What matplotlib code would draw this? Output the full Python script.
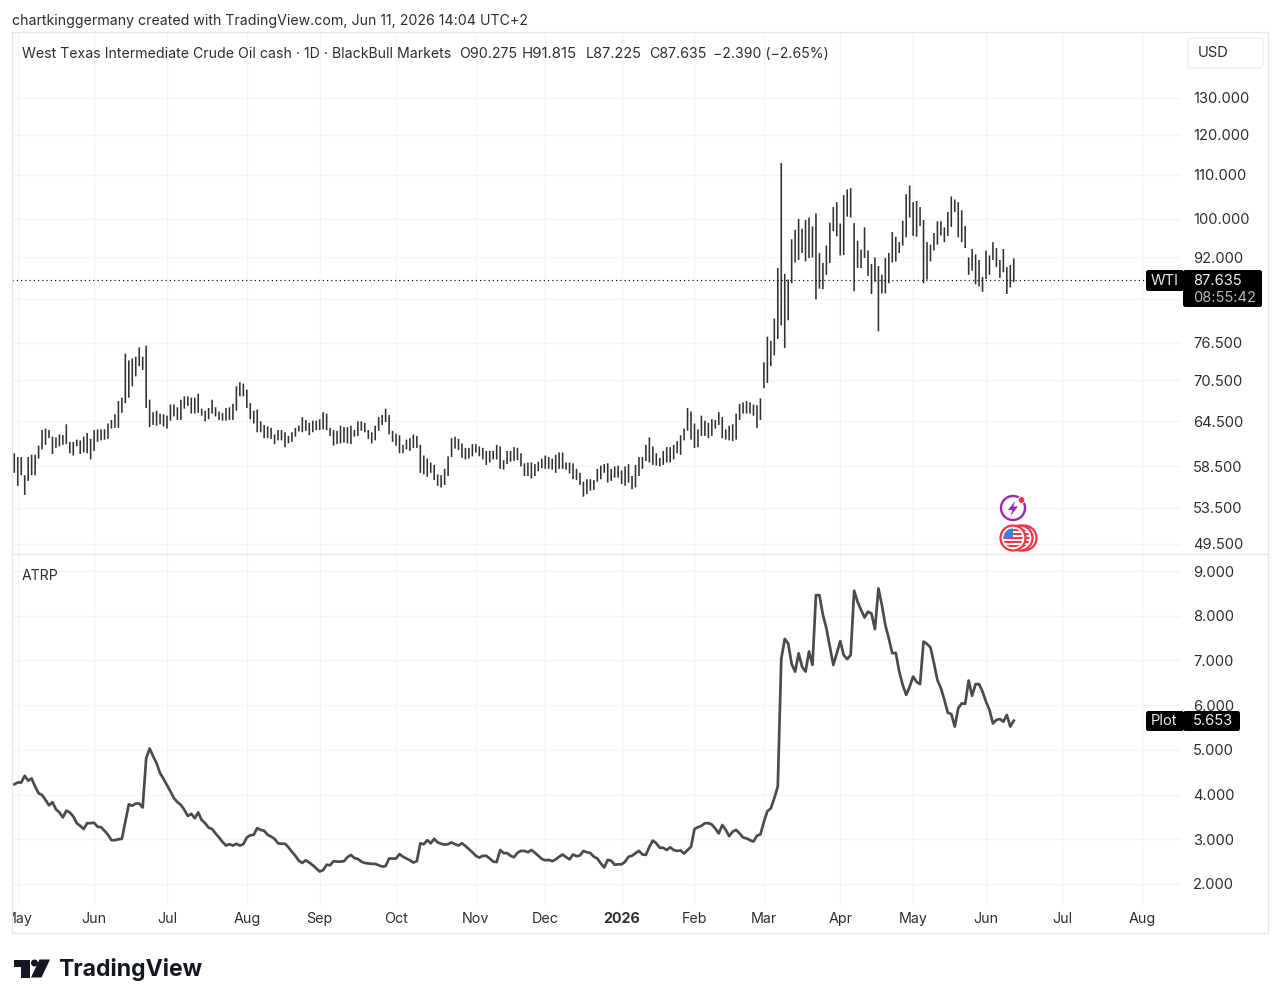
import matplotlib
matplotlib.use("Agg")
import matplotlib.pyplot as plt
from matplotlib.patches import Circle, FancyBboxPatch, Polygon, Rectangle
from matplotlib.transforms import Bbox

plt.rcParams["font.family"] = ["Inter", "DejaVu Sans"]

# Daily high/low of WTI crude, one value per trading session
high = [
60.2,59.7,59.7,57.4,59.7,60.0,60.0,61.2,63.3,63.5,63.3,62.4,62.3,62.7,62.6,64.1,61.7,61.7,62.0,61.9,
62.4,62.9,62.1,63.3,63.4,63.4,63.4,64.2,64.7,65.5,67.4,67.9,74.7,73.6,73.9,74.2,75.7,74.2,76.0,67.6,
65.8,66.0,65.6,65.5,65.3,66.9,66.9,66.5,67.6,68.1,68.1,67.9,67.9,68.5,66.3,66.0,66.4,67.6,66.5,65.9,
65.7,66.4,66.5,67.0,69.6,70.2,70.0,69.1,67.1,66.0,66.2,64.5,64.0,63.8,63.6,62.7,63.3,63.3,63.0,62.5,
63.0,63.6,63.9,65.1,64.7,64.3,64.6,64.6,64.8,65.8,65.6,63.6,63.3,63.2,63.9,63.7,63.7,63.9,63.3,64.5,
64.5,64.3,63.3,63.0,63.9,65.1,65.4,66.3,65.4,63.2,62.8,62.6,
61.3,62.0,62.2,62.7,62.5,61.3,59.9,59.5,59.0,58.7,57.5,57.4,58.2,59.8,62.2,62.4,62.1,61.5,60.9,60.9,
61.4,61.4,61.1,60.9,60.5,60.5,60.5,61.3,61.1,59.3,60.5,60.5,61.0,60.9,60.2,58.9,59.0,59.0,58.8,59.1,
59.5,59.9,59.7,59.5,60.0,60.3,60.3,59.0,59.0,58.9,58.2,57.7,56.6,56.9,56.9,56.8,58.2,58.6,58.8,58.9,
58.2,58.5,58.6,58.0,58.5,58.8,57.3,58.7,59.7,59.7,61.3,62.3,61.1,60.2,59.6,60.5,61.0,61.0,61.3,61.8,
62.6,63.5,66.4,65.9,64.2,63.4,65.3,64.6,64.3,64.8,64.7,65.8,65.1,63.4,63.9,64.1,65.6,67.0,67.2,67.4,
67.2,66.9,66.8,67.8,
73.3,77.5,76.8,80.6,89.9,112.9,88.8,87.7,95.7,97.7,100.0,97.9,99.8,100.3,98.4,101.2,92.9,90.9,94.4,99.2,
102.6,103.7,99.0,105.3,106.6,106.9,99.1,95.4,93.6,98.2,93.4,90.7,92.0,90.3,88.6,91.9,92.9,97.2,96.2,95.1,
99.6,105.5,107.5,103.7,104.0,102.6,99.8,95.1,94.6,97.0,99.5,99.5,98.2,101.5,105.0,104.3,103.7,101.9,98.5,92.0,
93.7,92.6,91.5,88.2,93.4,92.4,95.1,93.9,91.5,93.7,90.1,90.5,91.815,
]
low = [
57.7,56.1,57.4,55.0,56.7,57.4,57.4,59.5,60.7,61.3,62.2,60.1,60.9,61.1,61.3,61.4,60.2,59.9,61.1,60.1,
60.3,60.2,59.4,60.5,61.7,61.9,62.0,62.1,63.5,63.6,63.6,65.7,67.1,67.9,69.6,71.1,72.7,72.1,66.4,63.7,
64.0,63.9,64.1,63.8,63.5,64.6,65.2,64.7,64.7,66.3,66.7,65.6,65.6,65.7,65.3,64.5,64.8,65.6,65.2,64.7,
64.6,64.6,64.7,64.7,66.0,68.1,68.1,66.4,64.8,64.2,63.0,63.0,62.2,62.2,62.1,61.4,61.9,61.9,61.0,61.5,
61.7,62.4,63.1,63.0,63.2,62.6,63.0,63.3,63.3,63.4,63.3,62.5,61.2,61.4,61.5,61.6,61.5,61.4,62.4,62.5,
63.2,63.0,62.1,61.5,61.9,63.2,64.0,64.4,62.7,61.7,61.2,60.2,
60.2,60.7,60.5,60.9,60.9,57.7,57.5,57.2,57.7,56.8,56.1,55.9,56.2,57.3,59.7,60.8,60.6,59.6,59.4,59.5,
59.8,60.3,59.8,59.4,58.7,59.0,59.4,59.4,58.2,58.1,58.8,59.1,59.2,59.3,58.5,57.3,57.3,57.0,57.3,57.9,
58.3,58.2,58.2,58.1,57.7,58.2,58.2,58.1,57.6,56.9,56.8,56.2,54.8,55.1,55.5,55.6,56.6,56.9,57.7,56.5,
56.7,57.1,57.1,56.3,56.1,56.5,55.7,55.9,57.3,58.2,59.2,59.0,58.7,58.6,58.5,58.7,59.0,59.0,59.4,60.2,
60.0,61.9,63.2,62.0,60.9,61.0,62.5,62.5,62.2,62.5,63.5,64.0,62.2,62.0,61.9,61.8,62.0,64.7,65.6,65.6,
65.6,65.3,63.6,64.7,
69.3,70.1,72.7,74.4,77.1,79.4,75.6,80.3,87.0,91.0,91.5,92.9,91.2,91.9,92.0,84.0,86.0,85.9,88.6,90.9,
97.4,96.3,92.4,92.5,100.5,100.3,85.5,89.9,89.9,91.9,88.4,85.0,87.3,78.4,85.1,85.1,87.0,91.0,91.2,92.9,
94.4,96.1,100.3,96.4,96.2,98.5,87.0,87.7,91.2,93.4,94.6,96.5,95.1,96.4,98.3,101.5,96.1,95.1,93.9,88.6,
89.4,86.8,86.4,85.4,87.8,88.6,91.5,90.1,88.0,89.1,85.0,86.2,87.225,
]

# Average true range in percent, same sessions
atrp = [
4.23,4.27,4.27,4.42,4.31,4.36,4.18,4.03,3.99,3.88,3.76,3.83,3.67,3.60,3.49,3.64,3.60,3.51,3.36,3.30,
3.23,3.36,3.36,3.37,3.28,3.27,3.19,3.10,2.98,2.98,3.00,3.01,3.39,3.78,3.75,3.80,3.80,3.71,4.81,5.03,
4.86,4.70,4.48,4.35,4.21,4.07,3.92,3.83,3.77,3.66,3.52,3.57,3.47,3.60,3.43,3.36,3.26,3.23,3.13,3.04,
2.94,2.86,2.89,2.86,2.90,2.86,2.89,3.04,3.09,3.10,3.25,3.21,3.19,3.10,3.06,3.01,2.91,2.90,2.90,2.82,
2.72,2.63,2.52,2.47,2.53,2.48,2.42,2.35,2.28,2.31,2.43,2.42,2.51,2.50,2.50,2.51,2.60,2.65,2.58,2.56,
2.50,2.47,2.46,2.45,2.45,2.42,2.39,2.40,2.57,2.57,2.57,2.67,
2.61,2.57,2.53,2.48,2.51,2.91,2.89,2.98,2.91,3.01,2.93,2.90,2.88,2.89,2.93,2.89,2.86,2.91,2.85,2.78,
2.71,2.63,2.59,2.63,2.63,2.57,2.50,2.49,2.76,2.69,2.69,2.63,2.60,2.70,2.74,2.74,2.71,2.76,2.70,2.63,
2.56,2.53,2.54,2.51,2.55,2.61,2.66,2.60,2.55,2.66,2.62,2.64,2.74,2.71,2.69,2.61,2.57,2.46,2.37,2.54,
2.52,2.43,2.44,2.44,2.50,2.61,2.63,2.69,2.74,2.66,2.65,2.83,2.97,2.91,2.81,2.81,2.76,2.82,2.76,2.74,
2.75,2.68,2.76,2.83,3.23,3.27,3.30,3.36,3.36,3.33,3.24,3.13,3.32,3.21,3.07,3.17,3.21,3.13,3.04,3.02,
2.98,2.95,3.08,3.11,3.39,3.63,3.69,3.92,4.18,
7.03,7.48,7.38,6.92,6.75,7.16,6.86,6.75,7.20,6.90,8.46,8.46,8.02,7.72,7.31,6.90,7.16,7.43,7.12,7.03,
7.12,8.56,8.31,8.13,7.96,8.09,8.05,7.70,8.61,8.24,7.79,7.49,7.16,7.17,6.75,6.45,6.23,6.41,6.64,6.52,
6.47,7.42,7.37,7.29,6.94,6.56,6.38,6.12,5.83,5.80,5.52,5.93,6.04,6.03,6.55,6.21,6.47,6.47,6.30,6.08,
5.89,5.59,5.67,5.69,5.63,5.78,5.52,5.653,
]

assert len(high) == len(low) == len(atrp), (len(high), len(low), len(atrp))

last_close = 87.635
last_atrp = 5.653

price_ticks = [49.5, 53.5, 58.5, 64.5, 70.5, 76.5, 84.0, 92.0, 100.0, 110.0, 120.0, 130.0]
price_labels = ["49.500", "53.500", "58.500", "64.500", "70.500", "76.500", "", "92.000",
                "100.000", "110.000", "120.000", "130.000"]
atrp_ticks = [2, 3, 4, 5, 6, 7, 8, 9]
atrp_labels = ["2.000", "3.000", "4.000", "5.000", "6.000", "7.000", "8.000", "9.000"]

month_sessions = [1, 23, 44, 67, 88, 110, 133, 153, 175, 196, 216, 238, 259, 280, 302, 325]
month_labels = ["May", "Jun", "Jul", "Aug", "Sep", "Oct", "Nov", "Dec", "2026", "Feb", "Mar",
                "Apr", "May", "Jun", "Jul", "Aug"]

TEXT = "#2e2e30"
GRID = "#f3f4f6"
EDGE = "#e6e7ea"
BAR = "#303032"
LINE = "#4b4b4d"
VALUE_SIZE = 10.6

W, H = 1280, 1005
fig = plt.figure(figsize=(W / 100, H / 100), dpi=100, facecolor="white")


def pane(left, top, right, bottom):
    return fig.add_axes([left / W, 1 - bottom / H, (right - left) / W, (bottom - top) / H])


ax_price = pane(12, 33, 1180, 553)
ax_atrp = pane(12, 553, 1180, 905)

sessions = list(range(len(high)))
xlim = (-0.66, 335.9)

# Upper pane: high-low range bars on a log scale
ax_price.set_yscale("log")
ax_price.set_xlim(*xlim)
ax_price.set_ylim(48.5, 149.6)
bars = ax_price.vlines(sessions, low, high, color=BAR, lw=1.15, zorder=3)
bars.set_snap(False)
ax_price.hlines(last_close, xlim[0], 325.8, color="#111111", lw=0.85,
                linestyle=(0, (1, 2.6)), zorder=4)
ax_price.set_yticks(price_ticks)
ax_price.set_yticklabels(price_labels)
ax_price.minorticks_off()

# Lower pane: ATR percent line
ax_atrp.set_xlim(*xlim)
ax_atrp.set_ylim(1.53, 9.403)
ax_atrp.plot(sessions, atrp, color=LINE, lw=1.95, solid_joinstyle="round", zorder=3)
ax_atrp.set_yticks(atrp_ticks)
ax_atrp.set_yticklabels(atrp_labels)

for ax in (ax_price, ax_atrp):
    for spine in ax.spines.values():
        spine.set_visible(False)
    ax.yaxis.tick_right()
    ax.set_xticks(month_sessions)
    ax.grid(True, color=GRID, lw=1.0, zorder=0)
    ax.set_axisbelow(True)
    ax.tick_params(axis="both", which="both", length=0, labelsize=VALUE_SIZE, labelcolor=TEXT)
    ax.tick_params(axis="y", pad=9.3)

ax_price.tick_params(axis="x", labelbottom=False)
ax_atrp.set_xticklabels(month_labels)
ax_atrp.tick_params(axis="x", labelsize=10.3, pad=5)
for tick, name in zip(ax_atrp.xaxis.get_major_ticks(), month_labels):
    if name == "2026":
        tick.label1.set_fontweight("bold")
first = ax_atrp.xaxis.get_major_ticks()[0].label1
first.set_clip_on(True)
first.set_clip_box(Bbox([[12, 0], [W, H]]))

# Frame, labels and badges, placed in pixel coordinates
ov = fig.add_axes([0, 0, 1, 1], zorder=10)
ov.set_xlim(0, W)
ov.set_ylim(H, 0)
ov.axis("off")
ov.patch.set_alpha(0)

ov.add_patch(Rectangle((12, 32), 1256, 901, fill=False, ec=EDGE, lw=0.9))
ov.plot([12, 1268], [553.5, 553.5], color=EDGE, lw=1.0)

ov.text(12, 20.5, "chartkinggermany created with TradingView.com, Jun 11, 2026 14:04 UTC+2",
        fontsize=10.16, color=TEXT, va="center", ha="left")
ov.text(22, 53.5, "West Texas Intermediate Crude Oil cash · 1D · BlackBull Markets",
        fontsize=10.15, color=TEXT, va="center", ha="left")
ov.text(459, 53.5, "O90.275", fontsize=10.2, color=TEXT, va="center", ha="left")
ov.text(522, 53.5, "H91.815", fontsize=10.8, color=TEXT, va="center", ha="left")
ov.text(586, 53.5, "L87.225", fontsize=10.4, color=TEXT, va="center", ha="left")
ov.text(649, 53.5, "C87.635", fontsize=10.2, color=TEXT, va="center", ha="left")
ov.text(713, 53.5, "−2.390 (−2.65%)", fontsize=10.1, color=TEXT, va="center", ha="left")
ov.text(22, 575.5, "ATRP", fontsize=10.1, color=TEXT, va="center", ha="left")

ov.add_patch(FancyBboxPatch((1190, 40), 71, 26, boxstyle="round,pad=2,rounding_size=4",
                            fc="white", ec="#eeeff2", lw=1.0))
ov.text(1198, 52.5, "USD", fontsize=VALUE_SIZE, color=TEXT, va="center", ha="left")


def badge(x0, y0, x1, y1):
    ov.add_patch(FancyBboxPatch((x0 + 2, y0 + 2), x1 - x0 - 4, y1 - y0 - 4,
                                boxstyle="round,pad=2,rounding_size=2.5",
                                fc="#000000", ec="none"))


badge(1146, 270, 1184, 291)
badge(1183, 270, 1262, 307)
ov.text(1164.5, 280.5, "WTI", fontsize=VALUE_SIZE, color="#e8e8e8", va="center", ha="center")
ov.text(1193, 281, f"{last_close:.3f}", fontsize=VALUE_SIZE, color="#f0f0f0", va="center", ha="left")
ov.text(1193, 297.5, "08:55:42", fontsize=VALUE_SIZE, color="#b8b8b8", va="center", ha="left")

badge(1146, 711, 1184, 731)
badge(1183, 711, 1240, 731)
ov.text(1164.5, 721, "Plot", fontsize=VALUE_SIZE, color="#e8e8e8", va="center", ha="center")
ov.text(1193, 721, f"{last_atrp:.3f}", fontsize=VALUE_SIZE, color="#f0f0f0", va="center", ha="left")

# Lightning event marker
ov.add_patch(Circle((1013, 508), 12, fc="white", ec="#9c27b0", lw=1.7))
ov.add_patch(Polygon([(1015, 501), (1008, 510), (1012.5, 510), (1010.5, 516), (1018, 506.5),
                      (1013.5, 506.5)], closed=True, fc="#9c27b0", ec="none"))
ov.add_patch(Circle((1021.5, 500), 3.4, fc="#f23645", ec="white", lw=0.7))


# Economic calendar markers: stacked flag coins
def flag_coin(cx, cy, z):
    ov.add_patch(Circle((cx, cy), 12.5, fc="white", ec="#f23645", lw=1.6, zorder=z))
    clip = Circle((cx, cy), 9.6, transform=ov.transData)
    for k in range(5):
        stripe = Rectangle((cx - 11, cy - 9.5 + k * 4.2), 22, 2.1, fc="#f23645", ec="none", zorder=z + 0.1)
        ov.add_patch(stripe)
        stripe.set_clip_path(clip)
    canton = Rectangle((cx - 11, cy - 10), 11, 10, fc="#3f7fe0", ec="none", zorder=z + 0.2)
    ov.add_patch(canton)
    canton.set_clip_path(clip)


flag_coin(1024, 538, 11)
flag_coin(1020, 538, 12)
flag_coin(1013, 538, 13)

# Wordmark
LOGO = "#131722"
ov.add_patch(Polygon([(14, 959.5), (30, 959.5), (30, 977.5), (21, 977.5), (21, 966.5), (14, 966.5)],
                     closed=True, fc=LOGO, ec="none"))
ov.add_patch(Circle((34.5, 963), 3.5, fc=LOGO, ec="none"))
ov.add_patch(Polygon([(39.5, 959.5), (50, 959.5), (41.5, 977.5), (31, 977.5)], closed=True, fc=LOGO, ec="none"))
ov.text(58, 969.5, "TradingView", fontsize=16.55, fontweight="bold", color=LOGO, va="center", ha="left")

fig.savefig("out.png", dpi=100, facecolor="white")
